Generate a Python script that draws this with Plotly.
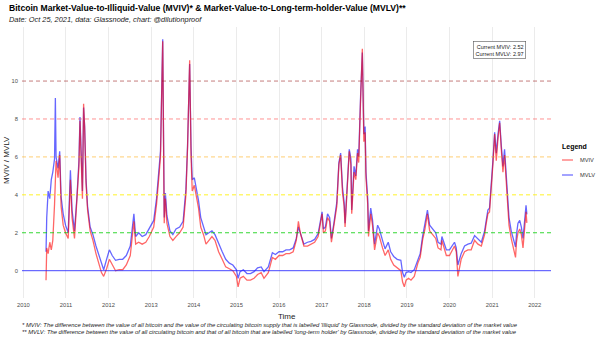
import plotly.graph_objects as go

dates = [
 "2010-07-14","2010-07-20","2010-08-01","2010-08-15","2010-08-28","2010-09-10","2010-09-25","2010-10-02","2010-10-08","2010-10-25",
 "2010-11-08","2010-11-20","2010-12-08","2010-12-28","2011-01-20","2011-02-08","2011-02-22","2011-03-15","2011-04-05","2011-04-22",
 "2011-05-01","2011-05-14","2011-05-22","2011-06-01","2011-06-10","2011-06-22","2011-07-05","2011-07-27","2011-08-20","2011-09-15",
 "2011-10-10","2011-11-01","2011-11-20","2011-12-15","2012-01-08","2012-02-01","2012-03-01","2012-04-01","2012-05-01","2012-06-01",
 "2012-07-05","2012-08-05","2012-08-20","2012-09-15","2012-10-15","2012-11-15","2012-12-15","2013-01-22","2013-02-15","2013-03-05",
 "2013-03-21","2013-04-09","2013-04-15","2013-04-22","2013-05-02","2013-05-15","2013-06-10","2013-07-05","2013-08-01","2013-09-01",
 "2013-10-01","2013-10-25","2013-11-08","2013-11-26","2013-12-08","2013-12-18","2014-01-05","2014-01-25","2014-02-10","2014-03-01",
 "2014-03-25","2014-04-15","2014-05-10","2014-06-05","2014-07-01","2014-08-01","2014-09-01","2014-10-01","2014-11-01","2014-12-01",
 "2015-01-01","2015-01-15","2015-02-01","2015-03-01","2015-04-01","2015-05-01","2015-06-01","2015-07-01","2015-08-01","2015-08-25",
 "2015-10-01","2015-11-05","2015-12-01","2016-01-01","2016-02-01","2016-03-01","2016-04-01","2016-05-01","2016-05-28","2016-06-15",
 "2016-07-01","2016-08-01","2016-09-01","2016-10-01","2016-11-01","2016-12-01","2017-01-04","2017-01-15","2017-02-01","2017-02-20",
 "2017-03-10","2017-03-25","2017-04-15","2017-05-10","2017-05-28","2017-06-12","2017-06-28","2017-07-12","2017-07-20","2017-08-10",
 "2017-08-25","2017-09-08","2017-09-15","2017-10-05","2017-10-20","2017-11-04","2017-11-14","2017-12-01","2017-12-15","2017-12-28",
 "2018-01-08","2018-01-15","2018-01-30","2018-02-06","2018-02-25","2018-03-12","2018-03-30","2018-04-25","2018-05-10","2018-06-06",
 "2018-06-28","2018-07-25","2018-08-15","2018-09-10","2018-10-10","2018-11-10","2018-11-25","2018-12-10","2018-12-25","2019-01-15",
 "2019-02-05","2019-03-05","2019-04-05","2019-04-25","2019-05-15","2019-06-05","2019-06-26","2019-07-15","2019-08-10","2019-09-05",
 "2019-09-25","2019-10-20","2019-10-28","2019-12-05","2020-01-01","2020-02-13","2020-02-28","2020-03-13","2020-04-10","2020-05-09",
 "2020-06-07","2020-07-05","2020-08-03","2020-09-01","2020-09-30","2020-10-28","2020-11-11","2020-11-25","2020-12-09","2020-12-24",
 "2021-01-07","2021-01-22","2021-02-05","2021-02-20","2021-03-06","2021-03-20","2021-04-03","2021-04-17","2021-05-02","2021-05-16",
 "2021-05-25","2021-06-13","2021-06-28","2021-07-20","2021-07-28","2021-08-10","2021-08-25","2021-09-08","2021-09-22","2021-10-05",
 "2021-10-18","2021-10-25",
]
mviv = [
 -0.5,1.2,0.9,1.5,1.1,1.6,3.5,4.5,5.8,4.9,
 6.1,3.4,2.4,2.0,1.7,4.8,2.8,1.7,3.6,5.5,
 7.9,4.8,3.8,8.8,7.5,4.6,3.2,2.1,1.6,0.9,
 0.4,-0.1,-0.3,0.1,0.6,0.3,0.0,0.05,0.05,0.3,
 0.8,2.6,1.4,1.5,1.4,1.5,1.8,2.3,3.5,4.8,
 6.0,12.1,4.2,2.5,3.8,2.5,1.8,1.6,1.8,2.0,
 2.3,4.0,6.5,11.1,6.0,4.2,4.5,3.9,3.3,2.3,
 1.9,1.4,1.6,1.8,1.6,1.0,0.6,0.2,0.1,0.0,
 -0.3,-0.85,-0.4,-0.3,-0.5,-0.5,-0.4,-0.2,-0.1,-0.4,
 -0.1,0.7,0.6,0.8,0.8,0.9,0.9,1.0,1.6,2.6,
 2.0,1.3,1.3,1.4,1.5,1.8,3.0,2.0,2.1,2.8,
 2.6,1.5,2.3,3.4,5.6,6.1,4.1,3.4,2.3,4.5,
 6.3,5.6,3.0,5.2,4.8,6.2,5.7,9.2,11.7,6.8,
 7.3,4.9,3.5,1.8,3.0,2.4,1.1,2.0,1.8,1.2,
 0.8,1.1,0.6,0.3,0.15,0.0,-0.6,-0.85,-0.5,-0.4,
 -0.5,-0.3,0.4,0.7,1.6,2.2,3.0,2.1,1.9,1.7,
 1.2,1.1,1.6,0.8,0.8,1.3,1.0,-0.3,0.6,1.0,
 1.1,1.1,1.6,1.4,1.3,1.9,2.5,3.0,3.1,4.2,
 5.6,7.2,5.8,7.0,7.8,6.4,5.2,6.1,4.6,3.6,
 2.4,1.7,1.3,0.7,1.5,2.0,2.2,1.9,1.2,2.3,
 3.1,2.52,
]
mvlv = [
 1.0,2.8,4.2,3.8,4.8,5.2,5.9,9.1,6.0,5.4,
 6.3,3.9,3.0,2.4,2.0,5.3,3.2,2.1,3.9,5.8,
 8.1,5.2,4.2,8.6,7.6,4.8,3.4,2.3,1.9,1.3,
 0.8,0.3,0.05,0.6,1.1,0.8,0.55,0.6,0.6,0.8,
 1.3,3.0,1.8,2.0,1.8,1.9,2.2,2.65,3.8,5.3,
 6.3,12.2,4.6,2.8,4.1,2.9,2.1,1.9,2.2,2.3,
 2.6,4.3,6.6,10.9,6.5,4.8,4.9,4.3,3.7,2.8,
 2.3,1.9,2.0,2.1,1.9,1.4,1.0,0.6,0.4,0.3,
 0.05,-0.4,-0.05,0.05,-0.15,-0.15,-0.05,0.15,0.2,-0.05,
 0.2,0.95,0.85,1.0,1.0,1.1,1.1,1.2,1.7,2.3,
 2.0,1.4,1.5,1.55,1.65,1.95,3.1,2.2,2.3,3.0,
 2.8,1.7,2.5,3.6,5.7,6.2,4.4,3.6,2.5,4.8,
 6.4,5.9,3.2,5.5,5.0,6.4,6.0,9.4,11.5,7.2,
 7.6,5.2,3.8,2.1,3.3,2.7,1.4,2.4,2.2,1.6,
 1.15,1.5,1.0,0.75,0.6,0.55,-0.1,-0.35,-0.1,-0.05,
 -0.1,0.05,0.6,0.9,1.8,2.5,3.2,2.4,2.2,2.0,
 1.5,1.4,1.8,1.1,1.1,1.5,1.2,0.3,0.9,1.3,
 1.4,1.45,1.85,1.7,1.5,2.1,2.7,3.2,3.3,4.4,
 5.8,7.3,6.2,7.2,7.9,6.6,5.5,6.4,4.9,3.9,
 2.8,2.1,1.7,1.25,1.9,2.5,2.65,2.3,1.7,2.7,
 3.45,2.97,
]
series_names = ["MVIV", "MVLV"]
series_colors = ["rgba(255,0,0,0.6)", "rgba(0,0,255,0.6)"]
level_values = [0, 2, 4, 6, 8, 10]
level_colors = ["rgba(40,40,255,0.85)", "rgba(0,205,0,0.8)", "rgba(255,240,0,0.85)",
                "rgba(255,165,0,0.55)", "rgba(255,60,60,0.55)", "rgba(150,20,20,0.55)"]
level_dash = ["solid", "4px,3px", "4px,3px", "4px,3px", "4px,3px", "4px,3px"]
year_ticks = [str(y) for y in range(2010, 2023)]
y_ticks = [0, 2, 4, 6, 8, 10]

FONT = "Liberation Sans, Arial, sans-serif"
fig = go.Figure()
fig.add_trace(go.Scatter(x=dates, y=mvlv, mode="lines", name=series_names[1],
                         line=dict(color=series_colors[1], width=1.3), showlegend=False))
fig.add_trace(go.Scatter(x=dates, y=mviv, mode="lines", name=series_names[0],
                         line=dict(color=series_colors[0], width=1.3), showlegend=False))

for v, c, d in zip(level_values, level_colors, level_dash):
    fig.add_shape(type="line", xref="paper", x0=0, x1=1, yref="y", y0=v, y1=v,
                  line=dict(color=c, width=1, dash=d), layer="above")

W, H = 600, 337
L, R, T, B = 22, 551, 27, 298
def px(x):
    return (x - L) / (R - L)
def py(y):
    return (B - y) / (B - T)

ann = []
ann.append(dict(x=px(7), y=py(8), xref="paper", yref="paper", xanchor="left", yanchor="middle",
                text="<b>Bitcoin Market-Value-to-Illiquid-Value (MVIV)* & Market-Value-to-Long-term-holder-Value (MVLV)**</b>",
                showarrow=False, font=dict(size=8.6, color="#000000", family=FONT)))
ann.append(dict(x=px(7), y=py(19.5), xref="paper", yref="paper", xanchor="left", yanchor="middle",
                text="<i>Date: Oct 25, 2021, data: Glassnode, chart: @dilutionproof</i>",
                showarrow=False, font=dict(size=7.4, color="#222222", family=FONT)))
ann.append(dict(x=px(6), y=py(160), xref="paper", yref="paper", xanchor="center", yanchor="middle",
                text="MVIV / MVLV", textangle=-90,
                showarrow=False, font=dict(size=8, color="#222222", family=FONT)))
ann.append(dict(x=px(287), y=py(316), xref="paper", yref="paper", xanchor="center", yanchor="middle",
                text="Time", showarrow=False, font=dict(size=8, color="#222222", family=FONT)))
ann.append(dict(x=px(20), y=py(324.5), xref="paper", yref="paper", xanchor="left", yanchor="middle",
                text="<i>* MVIV: The difference between the value of all bitcoin and the value of the circulating bitcoin supply that is labelled 'Illiquid' by Glassnode, divided by the standard deviation of the market value</i>",
                showarrow=False, font=dict(size=5.85, color="#222222", family=FONT)))
ann.append(dict(x=px(20), y=py(331.5), xref="paper", yref="paper", xanchor="left", yanchor="middle",
                text="<i>** MVLV: The difference between the value of all circulating bitcoin and that of all bitcoin that are labelled 'long-term holder' by Glassnode, divided by the standard deviation of the market value</i>",
                showarrow=False, font=dict(size=5.85, color="#222222", family=FONT)))
ann.append(dict(x=px(526), y=py(41), xref="paper", yref="paper", xanchor="right", yanchor="top",
                text="Current %s: %.2f<br>Current %s: %.2f" % (series_names[0], mviv[-1], series_names[1], mvlv[-1]),
                align="right", showarrow=False, bgcolor="white", bordercolor="#555555", borderwidth=0.6,
                borderpad=2, font=dict(size=5.5, color="#222222", family=FONT)))
# legend
ann.append(dict(x=px(560), y=py(147), xref="paper", yref="paper", xanchor="left", yanchor="middle",
                text="<b>Legend</b>", showarrow=False, font=dict(size=7, color="#000000", family=FONT)))
for i, (nm, col) in enumerate(zip(series_names, series_colors)):
    yy = 160 + 15 * i
    fig.add_shape(type="line", xref="paper", yref="paper", x0=px(562), x1=px(573), y0=py(yy), y1=py(yy),
                  line=dict(color=col, width=1.2))
    ann.append(dict(x=px(578), y=py(yy), xref="paper", yref="paper", xanchor="left", yanchor="middle",
                    text=nm, showarrow=False, font=dict(size=5.7, color="#333333", family=FONT)))

fig.update_layout(
    width=W, height=H,
    margin=dict(l=L, r=W - R, t=T, b=H - B, pad=0),
    paper_bgcolor="white", plot_bgcolor="white",
    showlegend=False,
    annotations=ann,
    font=dict(family=FONT),
    xaxis=dict(type="date", range=["2009-12-20", "2022-05-20"],
               tickvals=[y + "-01-01" for y in year_ticks], ticktext=year_ticks,
               showgrid=True, gridcolor="#ebebeb", gridwidth=1, zeroline=False,
               showline=False, ticks="", tickfont=dict(size=5.8, color="#4d4d4d"), ticklabelstandoff=2),
    yaxis=dict(range=[-1.44, 12.85], tickvals=y_ticks, ticktext=[str(v) for v in y_ticks],
               showgrid=False, zeroline=False, showline=False, ticks="",
               tickfont=dict(size=5.8, color="#4d4d4d"), ticklabelstandoff=3),
)
fig.write_html("out.html")
